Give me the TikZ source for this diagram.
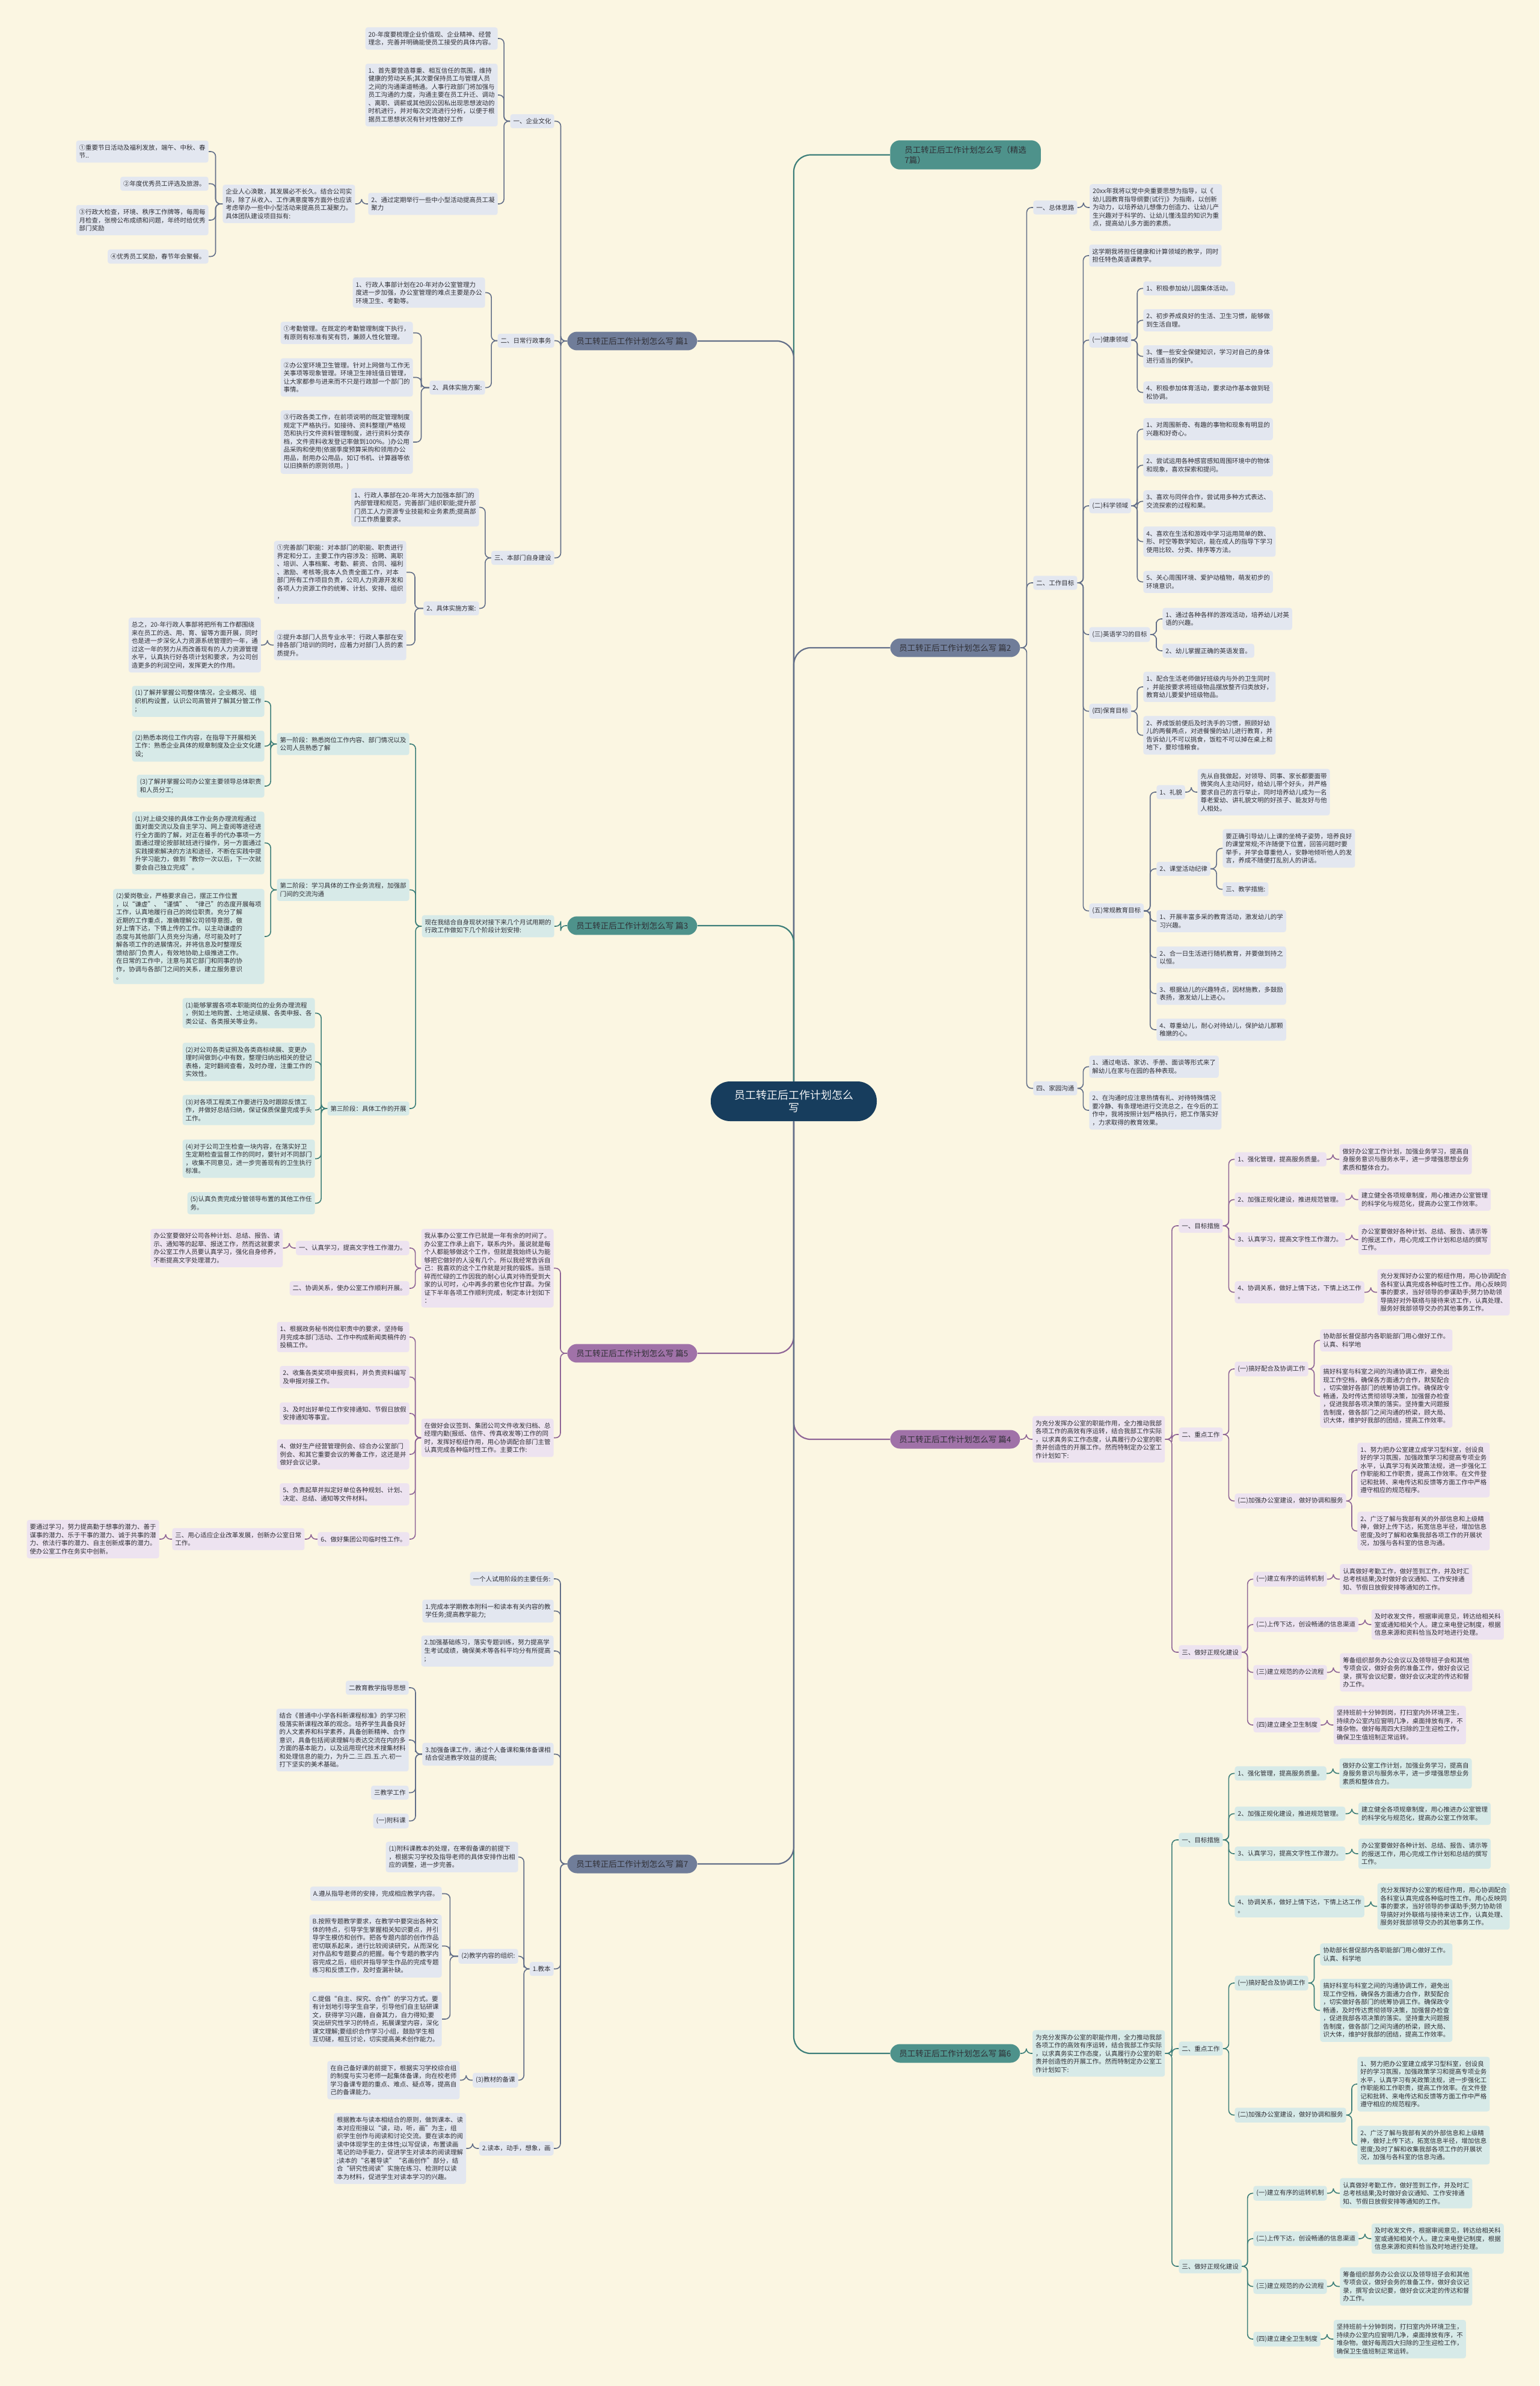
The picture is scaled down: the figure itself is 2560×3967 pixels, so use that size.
\documentclass[tikz,border=0pt]{standalone}
\usepackage{fontspec}
\setmainfont{Noto Sans CJK SC}
\usetikzlibrary{positioning,calc}
\definecolor{bgc}{RGB}{251,246,226}
\definecolor{ink}{RGB}{48,48,54}
\definecolor{slateL}{RGB}{98,110,136}
\definecolor{slateP}{RGB}{112,125,153}
\definecolor{slateF}{RGB}{227,231,240}
\definecolor{tealL}{RGB}{60,126,121}
\definecolor{tealP}{RGB}{78,146,139}
\definecolor{tealF}{RGB}{215,234,232}
\definecolor{purpL}{RGB}{142,100,150}
\definecolor{purpP}{RGB}{160,114,168}
\definecolor{purpF}{RGB}{237,227,240}
\definecolor{navy}{RGB}{23,61,93}
\newcommand{\lf}{\fontsize{5.25pt}{6.75pt}\selectfont}
\newcommand{\pf}{\fontsize{6.75pt}{8.6pt}\selectfont}
\newcommand{\hf}{\fontsize{9pt}{10.85pt}\selectfont}
% parent on the right, child on the left
\newcommand{\linkL}[3]{\draw[lk=#1] (#2.west) -| ($(#2.west)!.5!(#3.east)$) |- (#3.east);}
% parent on the left, child on the right
\newcommand{\linkR}[3]{\draw[lk=#1] (#2.east) -| ($(#2.east)!.5!(#3.west)$) |- (#3.west);}
% office plan branch (篇4 and 篇6 are the same text)
\newcommand{\officeplan}[6]{%
  \node[pill=#5, anchor=west] (#1) at (1480,2393+#2) {#6};
  \node[leaf=#4, right=10pt of #1] (#1o) {为充分发挥办公室的职能作用，全力推动我部\\各项工作的高效有序运转，结合我部工作实际\\，以求真务实工作态度，认真履行办公室的职\\责并创造性的开展工作。然而特制定办公室工\\作计划如下:};
  % 一、目标措施
  \node[leaf=#4, anchor=west] (#1a) at (1960,2038+#2) {一、目标措施};
  \node[leaf=#4, anchor=west] (#1a1) at (2053,1927.5+#2) {1、强化管理，提高服务质量。};
  \node[leaf=#4, right=10.5pt of #1a1] (#1a1t) {做好办公室工作计划，加强业务学习，提高自\\身服务意识与服务水平，进一步增强思想业务\\素质和整体合力。};
  \node[leaf=#4, anchor=west] (#1a2) at (2053,1994.5+#2) {2、加强正规化建设，推进规范管理。};
  \node[leaf=#4, right=10.5pt of #1a2] (#1a2t) {建立健全各项规章制度，用心推进办公室管理\\的科学化与规范化，提高办公室工作效率。};
  \node[leaf=#4, anchor=west] (#1a3) at (2053,2061+#2) {3、认真学习，提高文字性工作潜力。};
  \node[leaf=#4, right=10.5pt of #1a3] (#1a3t) {办公室要做好各种计划、总结、报告、请示等\\的报送工作，用心完成工作计划和总结的撰写\\工作。};
  \node[leaf=#4, anchor=west] (#1a4) at (2053,2148.5+#2) {4、协调关系，做好上情下达，下情上达工作\\。};
  \node[leaf=#4, right=10.5pt of #1a4] (#1a4t) {充分发挥好办公室的枢纽作用，用心协调配合\\各科室认真完成各种临时性工作。用心反映同\\事的要求，当好领导的参谋助手;努力协助领\\导搞好对外联络与接待来访工作，认真处理、\\服务好我部领导交办的其他事务工作。};
  % 二、重点工作
  \node[leaf=#4, anchor=west] (#1b) at (1960,2385+#2) {二、重点工作};
  \node[leaf=#4, anchor=west] (#1b1) at (2053,2276+#2) {(一)搞好配合及协调工作};
  \node[leaf=#4, anchor=west] (#1b1a) at (2195,2228.5+#2) {协助部长督促部内各职能部门用心做好工作。\\认真、科学地};
  \node[leaf=#4, anchor=west] (#1b1b) at (2195,2321.5+#2) {搞好科室与科室之间的沟通协调工作，避免出\\现工作空档，确保各方面通力合作，默契配合\\，切实做好各部门的统筹协调工作。确保政令\\畅通，及时传达贯彻领导决策，加强督办检查\\，促进我部各项决策的落实。坚持重大问题报\\告制度，做各部门之间沟通的桥梁，顾大局、\\识大体，维护好我部的团结，提高工作效率。};
  \node[leaf=#4, anchor=west] (#1b2) at (2053,2495.5+#2) {(二)加强办公室建设，做好协调和服务};
  \node[leaf=#4, anchor=west] (#1b2a) at (2257,2444+#2) {1、努力把办公室建立成学习型科室，创设良\\好的学习氛围，加强政策学习和提高专项业务\\水平，认真学习有关政策法规，进一步强化工\\作职能和工作职责，提高工作效率。在文件登\\记和批转、来电传达和反馈等方面工作中严格\\遵守相应的规范程序。};
  \node[leaf=#4, anchor=west] (#1b2b) at (2257,2545.5+#2) {2、广泛了解与我部有关的外部信息和上级精\\神，做好上传下达，拓宽信息半径，增加信息\\密度;及时了解和收集我部各项工作的开展状\\况，加强与各科室的信息沟通。};
  % 三、做好正规化建设
  \node[leaf=#4, anchor=west] (#1c) at (1960,2747+#2) {三、做好正规化建设};
  \node[leaf=#4, anchor=west] (#1c1) at (2084,2625.5+#2) {(一)建立有序的运转机制};
  \node[leaf=#4, right=10.5pt of #1c1] (#1c1t) {认真做好考勤工作，做好签到工作，并及时汇\\总考核结果;及时做好会议通知、工作安排通\\知、节假日放假安排等通知的工作。};
  \node[leaf=#4, anchor=west] (#1c2) at (2084,2701+#2) {(二)上传下达，创设畅通的信息渠道};
  \node[leaf=#4, right=10.5pt of #1c2] (#1c2t) {及时收发文件，根据审阅意见，转达给相关科\\室或通知相关个人。建立来电登记制度，根据\\信息来源和资料恰当及时地进行处理。};
  \node[leaf=#4, anchor=west] (#1c3) at (2084,2780.5+#2) {(三)建立规范的办公流程};
  \node[leaf=#4, right=10.5pt of #1c3] (#1c3t) {筹备组织部务办公会议以及领导班子会和其他\\专项会议，做好会务的准备工作，做好会议记\\录，撰写会议纪要，做好会议决定的传达和督\\办工作。};
  \node[leaf=#4, anchor=west] (#1c4) at (2084,2868+#2) {(四)建立建全卫生制度};
  \node[leaf=#4, right=10.5pt of #1c4] (#1c4t) {坚持班前十分钟到岗，打扫室内外环境卫生，\\持续办公室内应窗明几净，桌面排放有序，不\\堆杂物。做好每周四大扫除的卫生迎检工作，\\确保卫生值班制正常运转。};
  \linkR{#3}{#1}{#1o}
  \linkR{#3}{#1o}{#1a}\linkR{#3}{#1o}{#1b}\linkR{#3}{#1o}{#1c}
  \linkR{#3}{#1a}{#1a1}\linkR{#3}{#1a}{#1a2}\linkR{#3}{#1a}{#1a3}\linkR{#3}{#1a}{#1a4}
  \linkR{#3}{#1a1}{#1a1t}\linkR{#3}{#1a2}{#1a2t}\linkR{#3}{#1a3}{#1a3t}\linkR{#3}{#1a4}{#1a4t}
  \linkR{#3}{#1b}{#1b1}\linkR{#3}{#1b}{#1b2}
  \linkR{#3}{#1b1}{#1b1a}\linkR{#3}{#1b1}{#1b1b}
  \linkR{#3}{#1b2}{#1b2a}\linkR{#3}{#1b2}{#1b2b}
  \linkR{#3}{#1c}{#1c1}\linkR{#3}{#1c}{#1c2}\linkR{#3}{#1c}{#1c3}\linkR{#3}{#1c}{#1c4}
  \linkR{#3}{#1c1}{#1c1t}\linkR{#3}{#1c2}{#1c2t}\linkR{#3}{#1c3}{#1c3t}\linkR{#3}{#1c4}{#1c4t}
}

\begin{document}
\begin{tikzpicture}[x=0.5pt, y=-0.5pt,
  hub/.style={fill=navy, text=white!94!navy, font=\hf, rounded corners=16pt,
    minimum width=138pt, minimum height=33pt, align=center, inner sep=2pt},
  pill/.style={fill=#1, text=ink, font=\pf, rounded corners=8pt,
    inner xsep=7.5pt, inner ysep=4.6pt, align=left},
  leaf/.style={fill=#1, text=ink, font=\lf, rounded corners=2pt,
    inner xsep=2.5pt, inner ysep=3.4pt, align=left},
  lk/.style={draw=#1, line width=0.8pt, rounded corners=4pt},
  hlk/.style={draw=#1, line width=1.1pt, rounded corners=14pt},
]
\fill[bgc] (0,0) rectangle (2560,3967);

% centre
\node[hub] (hub) at (1320,1831) {员工转正后工作计划怎么\\写};

% title pill
\node[pill=tealP, anchor=west, inner xsep=12pt] (P0) at (1480,257.5) {员工转正后工作计划怎么写（精选\\7篇）};

% 篇1
\node[pill=slateP, anchor=west] (P1) at (943,567) {员工转正后工作计划怎么写 篇1};
\node[leaf=slateF, anchor=east] (a1) at (922,201.5) {一、企业文化};
\node[leaf=slateF, anchor=east] (a11) at (828,64) {20-年度要梳理企业价值观、企业精神、经营\\理念，完善并明确能使员工接受的具体内容。};
\node[leaf=slateF, anchor=east] (a12) at (828,158) {1、首先要营造尊重、相互信任的氛围，维持\\健康的劳动关系;其次要保持员工与管理人员\\之间的沟通渠道畅通。人事行政部门将加强与\\员工沟通的力度，沟通主要在员工升迁、调动\\、离职、调薪或其他因公因私出现思想波动的\\时机进行，并对每次交流进行分析，以便于根\\据员工思想状况有针对性做好工作};
\node[leaf=slateF, anchor=east] (a13) at (828,339) {2、通过定期举行一些中小型活动提高员工凝\\聚力};
\node[leaf=slateF, left=10.5pt of a13] (a131) {企业人心涣散，其发展必不长久。结合公司实\\际，除了从收入、工作满意度等方面外也应该\\考虑举办一些中小型活动来提高员工凝聚力。\\具体团队建设项目拟有:};
\node[leaf=slateF, anchor=east] (a1311) at (347,252) {①重要节日活动及福利发放，端午、中秋、春\\节..};
\node[leaf=slateF, anchor=east] (a1312) at (347,305.5) {②年度优秀员工评选及旅游。};
\node[leaf=slateF, anchor=east] (a1313) at (347,366) {③行政大检查，环境、秩序工作牌等，每周每\\月检查，张榜公布成绩和问题，年终时给优秀\\部门奖励};
\node[leaf=slateF, anchor=east] (a1314) at (347,426.5) {④优秀员工奖励，春节年会聚餐。};
\node[leaf=slateF, anchor=east] (a2) at (922,566.5) {二、日常行政事务};
\node[leaf=slateF, anchor=east] (a21) at (807,486.5) {1、行政人事部计划在20-年对办公室管理力\\度进一步加强，办公室管理的难点主要是办公\\环境卫生、考勤等。};
\node[leaf=slateF, anchor=east] (a22) at (807,644.5) {2、具体实施方案:};
\node[leaf=slateF, anchor=east] (a221) at (687,553.5) {①考勤管理。在既定的考勤管理制度下执行，\\有原则有标准有奖有罚，兼顾人性化管理。};
\node[leaf=slateF, anchor=east] (a222) at (687,627.5) {②办公室环境卫生管理。针对上网做与工作无\\关事项等现象管理。环境卫生排班值日管理，\\让大家都参与进来而不只是行政部一个部门的\\事情。};
\node[leaf=slateF, anchor=east] (a223) at (687,735) {③行政各类工作，在前项说明的既定管理制度\\规定下严格执行。如接待、资料整理(严格规\\范和执行文件资料管理制度，进行资料分类存\\档，文件资料收发登记率做到100\%。)办公用\\品采购和使用(依据季度预算采购和领用办公\\用品，耐用办公用品，如订书机、计算器等依\\以旧换新的原则领用。)};
\node[leaf=slateF, anchor=east] (a3) at (922,927.5) {三、本部门自身建设};
\node[leaf=slateF, anchor=east] (a31) at (797,843.5) {1、行政人事部在20-年将大力加强本部门的\\内部管理和规范，完善部门组织职能;提升部\\门员工人力资源专业技能和业务素质;提高部\\门工作质量要求。};
\node[leaf=slateF, anchor=east] (a32) at (797,1011.5) {2、具体实施方案:};
\node[leaf=slateF, anchor=east] (a321) at (676,951.5) {①完善部门职能：对本部门的职能、职责进行\\界定和分工，主要工作内容涉及：招聘、离职\\、培训、人事档案、考勤、薪资、合同、福利\\、激励、考核等;我本人负责全面工作，对本\\部门所有工作项目负责，公司人力资源开发和\\各项人力资源工作的统筹、计划、安排、组织\\，};
\node[leaf=slateF, anchor=east] (a322) at (676,1072.5) {②提升本部门人员专业水平：行政人事部在安\\排各部门培训的同时，应着力对部门人员的素\\质提升。};
\node[leaf=slateF, left=10.5pt of a322] (a3221) {总之，20-年行政人事部将把所有工作都围绕\\来在员工的选、用、育、留等方面开展，同时\\也是进一步深化人力资源系统管理的一年，通\\过这一年的努力从而改善现有的人力资源管理\\水平，认真执行好各项计划和要求，为公司创\\造更多的利润空间，发挥更大的作用。};

% 篇3
\node[pill=tealP, anchor=west] (P3) at (943,1539) {员工转正后工作计划怎么写 篇3};
\node[leaf=tealF, anchor=east] (b1) at (922,1540) {现在我结合自身现状对接下来几个月试用期的\\行政工作做如下几个阶段计划安排:};
\node[leaf=tealF, anchor=east] (b11) at (681,1237) {第一阶段：熟悉岗位工作内容、部门情况以及\\公司人员熟悉了解};
\node[leaf=tealF, anchor=east] (b111) at (440,1166) {(1)了解并掌握公司整体情况，企业概况、组\\织机构设置，认识公司高管并了解其分管工作\\;};
\node[leaf=tealF, anchor=east] (b112) at (440,1240.5) {(2)熟悉本岗位工作内容，在指导下开展相关\\工作：熟悉企业具体的规章制度及企业文化建\\设;};
\node[leaf=tealF, anchor=east] (b113) at (440,1307) {(3)了解并掌握公司办公室主要领导总体职责\\和人员分工;};
\node[leaf=tealF, anchor=east] (b12) at (681,1479.5) {第二阶段：学习具体的工作业务流程，加强部\\门间的交流沟通};
\node[leaf=tealF, anchor=east] (b121) at (440,1401.5) {(1)对上级交接的具体工作业务办理流程通过\\面对面交流以及自主学习、网上查阅等途径进\\行全方面的了解，对正在着手的代办事项一方\\面通过理论按部就班进行操作，另一方面通过\\实践摸索解决的方法和途径，不断在实践中提\\升学习能力，做到“教你一次以后，下一次就\\要会自己独立完成”。};
\node[leaf=tealF, anchor=east] (b122) at (440,1557) {(2)爱岗敬业，严格要求自己，摆正工作位置\\，以“谦虚”、“谨慎”、“律己”的态度开展每项\\工作，认真地履行自己的岗位职责。充分了解\\近期的工作重点，准确理解公司领导意图，做\\好上情下达，下情上传的工作。以主动谦虚的\\态度与其他部门人员充分沟通，尽可能及时了\\解各项工作的进展情况，并将信息及时整理反\\馈给部门负责人，有效地协助上级推进工作。\\在日常的工作中，注意与其它部门和同事的协\\作，协调与各部门之间的关系，建立服务意识\\。};
\node[leaf=tealF, anchor=east] (b13) at (681,1843) {第三阶段：具体工作的开展};
\node[leaf=tealF, anchor=east] (b131) at (524,1684.5) {(1)能够掌握各项本职能岗位的业务办理流程\\，例如土地购置、土地证续展、各类申报、各\\类公证、各类报关等业务。};
\node[leaf=tealF, anchor=east] (b132) at (524,1765.5) {(2)对公司各类证照及各类商标续展、变更办\\理时间做到心中有数，整理归纳出相关的登记\\表格，定时翻阅查看，及时办理，注重工作的\\实效性。};
\node[leaf=tealF, anchor=east] (b133) at (524,1845.5) {(3)对各项工程类工作要进行及时跟踪反馈工\\作，并做好总结归纳，保证保质保量完成手头\\工作。};
\node[leaf=tealF, anchor=east] (b134) at (524,1926.5) {(4)对于公司卫生检查一块内容，在落实好卫\\生定期检查监督工作的同时，要针对不同部门\\，收集不同意见，进一步完善现有的卫生执行\\标准。};
\node[leaf=tealF, anchor=east] (b135) at (524,2000.5) {(5)认真负责完成分管领导布置的其他工作任\\务。};

% 篇5
\node[pill=purpP, anchor=west] (P5) at (943,2250) {员工转正后工作计划怎么写 篇5};
\node[leaf=purpF, anchor=east] (c1) at (921,2108.5) {我从事办公室工作已就是一年有余的时间了。\\办公室工作承上启下，联系内外。虽说就是每\\个人都能够做这个工作，但就是我始终认为能\\够把它做好的人没有几个。所以我经常告诉自\\己：我喜欢的这个工作就是对我的锻炼。当琐\\碎而忙碌的工作因我的耐心认真对待而受到大\\家的认可时，心中再多的累也化作甘霖。为保\\证下半年各项工作顺利完成，制定本计划如下\\：};
\node[leaf=purpF, anchor=east] (c11) at (681,2075) {一、认真学习，提高文字性工作潜力。};
\node[leaf=purpF, left=10.5pt of c11] (c111) {办公室要做好公司各种计划、总结、报告、请\\示、通知等的起草、报送工作，然而这就要求\\办公室工作人员要认真学习，强化自身修养，\\不断提高文字处理潜力。};
\node[leaf=purpF, anchor=east] (c12) at (681,2142) {二、协调关系，使办公室工作顺利开展。};
\node[leaf=purpF, anchor=east] (c2) at (921,2390.5) {在做好会议签到、集团公司文件收发归档、总\\经理内勤(报纸、信件、传真收发等)工作的同\\时，发挥好枢纽作用，用心协调配合部门主管\\认真完成各种临时性工作。主要工作:};
\node[leaf=purpF, anchor=east] (c21) at (681,2223) {1、根据政务秘书岗位职责中的要求，坚持每\\月完成本部门活动、工作中构成新闻类稿件的\\投稿工作。};
\node[leaf=purpF, anchor=east] (c22) at (681,2289.5) {2、收集各类奖项申报资料，并负责资料编写\\及申报对接工作。};
\node[leaf=purpF, anchor=east] (c23) at (681,2350) {3、及时出好单位工作安排通知、节假日放假\\安排通知等事宜。};
\node[leaf=purpF, anchor=east] (c24) at (681,2418) {4、做好生产经营管理例会、综合办公室部门\\例会、和其它重要会议的筹备工作，这还是并\\做好会议记录。};
\node[leaf=purpF, anchor=east] (c25) at (681,2484.5) {5、负责起草并拟定好单位各种规划、计划、\\决定、总结、通知等文件材料。};
\node[leaf=purpF, anchor=east] (c26) at (681,2559) {6、做好集团公司临时性工作。};
\node[leaf=purpF, left=10.5pt of c26] (c261) {三、用心适应企业改革发展，创新办公室日常\\工作。};
\node[leaf=purpF, left=10.5pt of c261] (c2611) {要通过学习，努力提高勤于想事的潜力、善于\\谋事的潜力、乐于干事的潜力、诚于共事的潜\\力、依法行事的潜力、自主创新成事的潜力。\\使办公室工作在务实中创新。};

% 篇7
\node[pill=slateP, anchor=west] (P7) at (943,3099) {员工转正后工作计划怎么写 篇7};
\node[leaf=slateF, anchor=east] (d1) at (921,2625) {一个人试用阶段的主要任务:};
\node[leaf=slateF, anchor=east] (d2) at (921,2678.5) {1.完成本学期教本附科一和读本有关内容的教\\学任务;提高教学能力;};
\node[leaf=slateF, anchor=east] (d3) at (921,2745) {2.加强基础练习，落实专题训练，努力提高学\\生考试成绩，确保美术等各科平均分有所提高\\;};
\node[leaf=slateF, anchor=east] (d4) at (921,2916.5) {3.加强备课工作，通过个人备课和集体备课相\\结合促进教学效益的提高;};
\node[leaf=slateF, anchor=east] (d41) at (680,2806) {二教育教学指导思想};
\node[leaf=slateF, anchor=east] (d42) at (680,2893) {结合《普通中小学各科新课程标准》的学习积\\极落实新课程改革的观念。培养学生具备良好\\的人文素养和科学素养，具备创新精神、合作\\意识，具备包括阅读理解与表达交流在内的多\\方面的基本能力，以及运用现代技术搜集材料\\和处理信息的能力，为升二.三.四.五.六.初一\\打下坚实的美术基础。};
\node[leaf=slateF, anchor=east] (d43) at (680,2980.5) {三教学工作};
\node[leaf=slateF, anchor=east] (d44) at (680,3027.5) {(一)附科课};
\node[leaf=slateF, anchor=east] (d5) at (921,3273.5) {1.教本};
\node[leaf=slateF, anchor=east] (d51) at (862,3087.5) {(1)附科课教本的处理，在寒假备课的前提下\\，根据实习学校及指导老师的具体安排作出相\\应的调整，进一步完善。};
\node[leaf=slateF, anchor=east] (d52) at (862,3252.5) {(2)教学内容的组织:};
\node[leaf=slateF, anchor=east] (d521) at (735,3148.5) {A.遵从指导老师的安排，完成相应教学内容。};
\node[leaf=slateF, anchor=east] (d522) at (735,3235.5) {B.按照专题教学要求，在教学中要突出各种文\\体的特点，引导学生掌握相关知识要点，并引\\导学生模仿和创作。把各专题内部的创作作品\\密切联系起来，进行比较阅读研究，从而深化\\对作品和专题要点的把握。每个专题的教学内\\容完成之后，组织并指导学生作品的完成专题\\练习和反馈工作，及时查漏补缺。};
\node[leaf=slateF, anchor=east] (d523) at (735,3357) {C.提倡“自主、探究、合作”的学习方式。要\\有计划地引导学生自学，引导他们自主钻研课\\文，获得学习兴趣，自奋其力，自力得知;要\\突出研究性学习的特点，拓展课堂内容，深化\\课文理解;要组织合作学习小组，鼓励学生相\\互切磋，相互讨论，切实提高美术创作能力。};
\node[leaf=slateF, anchor=east] (d53) at (862,3458.5) {(3)教材的备课};
\node[leaf=slateF, left=10.5pt of d53] (d531) {在自己备好课的前提下，根据实习学校综合组\\的制度与实习老师一起集体备课，向在校老师\\学习备课专题的重点、难点、疑点等，提高自\\己的备课能力。};
\node[leaf=slateF, anchor=east] (d6) at (921,3572) {2.读本，动手，想象，画};
\node[leaf=slateF, left=10.5pt of d6] (d61) {根据教本与读本相结合的原则，做到课本、读\\本对应衔接以“读，动，听，画”为主，组\\织学生创作与阅读和讨论交流。要在读本的阅\\读中体现学生的主体性;以写促读，布置读画\\笔记的动手能力，促进学生对读本的阅读理解\\;读本的“名著导读”“名画创作”部分，结\\合“研究性阅读”实施在练习、检测时以读\\本为材料，促进学生对读本学习的兴趣。};

% 篇2
\node[pill=slateP, anchor=west] (P2) at (1480,1077) {员工转正后工作计划怎么写 篇2};
\node[leaf=slateF, anchor=west] (e1) at (1718,345) {一、总体思路};
\node[leaf=slateF, right=10pt of e1] (e11) {20xx年我将以党中央重要思想为指导，以《\\幼儿园教育指导纲要(试行)》为指南，以创新\\为动力，以培养幼儿想像力创造力、让幼儿产\\生兴趣对于科学的、让幼儿懂浅显的知识为重\\点，提高幼儿多方面的素质。};
\node[leaf=slateF, anchor=west] (e2) at (1718,969) {二、工作目标};
\node[leaf=slateF, anchor=west] (e21) at (1811,425) {这学期我将担任健康和计算领域的教学，同时\\担任特色英语课教学。};
\node[leaf=slateF, anchor=west] (e22) at (1811,565.5) {(一)健康领域};
\node[leaf=slateF, anchor=west] (e221) at (1901,479.5) {1、积极参加幼儿园集体活动。};
\node[leaf=slateF, anchor=west] (e222) at (1901,532.5) {2、初步养成良好的生活、卫生习惯，能够做\\到生活自理。};
\node[leaf=slateF, anchor=west] (e223) at (1901,592.5) {3、懂一些安全保健知识，学习对自己的身体\\进行适当的保护。};
\node[leaf=slateF, anchor=west] (e224) at (1901,652.5) {4、积极参加体育活动，要求动作基本做到轻\\松协调。};
\node[leaf=slateF, anchor=west] (e23) at (1811,841) {(二)科学领域};
\node[leaf=slateF, anchor=west] (e231) at (1901,713.5) {1、对周围新奇、有趣的事物和现象有明显的\\兴趣和好奇心。};
\node[leaf=slateF, anchor=west] (e232) at (1901,773.5) {2、尝试运用各种感官感知周围环境中的物体\\和现象，喜欢探索和提问。};
\node[leaf=slateF, anchor=west] (e233) at (1901,833.5) {3、喜欢与同伴合作，尝试用多种方式表达、\\交流探索的过程和果。};
\node[leaf=slateF, anchor=west] (e234) at (1901,900.5) {4、喜欢在生活和游戏中学习运用简单的数、\\形、时空等数学知识，能在成人的指导下学习\\使用比较、分类、排序等方法。};
\node[leaf=slateF, anchor=west] (e235) at (1901,967.5) {5、关心周围环境、爱护动植物，萌发初步的\\环境意识。};
\node[leaf=slateF, anchor=west] (e24) at (1811,1055) {(三)英语学习的目标};
\node[leaf=slateF, anchor=west] (e241) at (1933,1029) {1、通过各种各样的游戏活动，培养幼儿对英\\语的兴趣。};
\node[leaf=slateF, anchor=west] (e242) at (1933,1082) {2、幼儿掌握正确的英语发音。};
\node[leaf=slateF, anchor=west] (e25) at (1811,1182.5) {(四)保育目标};
\node[leaf=slateF, anchor=west] (e251) at (1901,1142) {1、配合生活老师做好班级内与外的卫生同时\\，并能按要求将班级物品摆放整齐归类放好，\\教育幼儿要爱护班级物品。};
\node[leaf=slateF, anchor=west] (e252) at (1901,1222.5) {2、养成饭前便后及时洗手的习惯，照顾好幼\\儿的两餐两点，对进餐慢的幼儿进行教育，并\\告诉幼儿不可以挑食，饭粒不可以掉在桌上和\\地下，要珍惜粮食。};
\node[leaf=slateF, anchor=west] (e26) at (1811,1514.5) {(五)常规教育目标};
\node[leaf=slateF, anchor=west] (e261) at (1923,1317) {1、礼貌};
\node[leaf=slateF, right=10pt of e261] (e2611) {先从自我做起，对领导、同事、家长都要面带\\微笑向人主动问好，给幼儿带个好头，并严格\\要求自己的言行举止，同时培养幼儿成为一名\\尊老爱幼、讲礼貌文明的好孩子、能友好与他\\人相处。};
\node[leaf=slateF, anchor=west] (e262) at (1923,1444.5) {2、课堂活动纪律};
\node[leaf=slateF, anchor=west] (e2621) at (2033,1410.5) {要正确引导幼儿上课的坐椅子姿势，培养良好\\的课堂常规;不许随便下位置，回答问题时要\\举手，并学会尊重他人，安静地倾听他人的发\\言，养成不随便打乱别人的讲话。};
\node[leaf=slateF, anchor=west] (e2622) at (2033,1478.5) {三、教学措施:};
\node[leaf=slateF, anchor=west] (e263) at (1923,1531.5) {1、开展丰富多采的教育活动，激发幼儿的学\\习兴趣。};
\node[leaf=slateF, anchor=west] (e264) at (1923,1592) {2、合一日生活进行随机教育，并要做到持之\\以恒。};
\node[leaf=slateF, anchor=west] (e265) at (1923,1652) {3、根据幼儿的兴趣特点，因材施教，多鼓励\\表扬，激发幼儿上进心。};
\node[leaf=slateF, anchor=west] (e266) at (1923,1712) {4、尊重幼儿，耐心对待幼儿，保护幼儿那颗\\稚嫩的心。};
\node[leaf=slateF, anchor=west] (e3) at (1718,1809.5) {四、家园沟通};
\node[leaf=slateF, anchor=west] (e31) at (1811,1773.5) {1、通过电话、家访、手册、面谈等形式来了\\解幼儿在家与在园的各种表现。};
\node[leaf=slateF, anchor=west] (e32) at (1811,1846) {2、在沟通时应注意热情有礼、对待特殊情况\\要冷静、有条理地进行交流总之，在今后的工\\作中，我将按照计划严格执行，把工作落实好\\，力求取得的教育效果。};

% 篇4 and 篇6
\officeplan{P4}{0}{purpL}{purpF}{purpP}{员工转正后工作计划怎么写 篇4}
\officeplan{P6}{1021}{tealL}{tealF}{tealP}{员工转正后工作计划怎么写 篇6}

% centre to branches
\draw[hlk=tealL] (hub.north) |- (P0.west);
\draw[hlk=slateL] (hub.north) |- (P1.east);
\draw[hlk=slateL] (hub.north) |- (P2.west);
\draw[hlk=tealL] (hub.north) |- (P3.east);
\draw[hlk=purpL] (hub.south) |- (P4.west);
\draw[hlk=purpL] (hub.south) |- (P5.east);
\draw[hlk=tealL] (hub.south) |- (P6.west);
\draw[hlk=slateL] (hub.south) |- (P7.east);

% links 篇1
\linkL{slateL}{P1}{a1}\linkL{slateL}{P1}{a2}\linkL{slateL}{P1}{a3}
\linkL{slateL}{a1}{a11}\linkL{slateL}{a1}{a12}\linkL{slateL}{a1}{a13}
\linkL{slateL}{a13}{a131}
\linkL{slateL}{a131}{a1311}\linkL{slateL}{a131}{a1312}\linkL{slateL}{a131}{a1313}\linkL{slateL}{a131}{a1314}
\linkL{slateL}{a2}{a21}\linkL{slateL}{a2}{a22}
\linkL{slateL}{a22}{a221}\linkL{slateL}{a22}{a222}\linkL{slateL}{a22}{a223}
\linkL{slateL}{a3}{a31}\linkL{slateL}{a3}{a32}
\linkL{slateL}{a32}{a321}\linkL{slateL}{a32}{a322}
\linkL{slateL}{a322}{a3221}

% links 篇3
\linkL{tealL}{P3}{b1}
\linkL{tealL}{b1}{b11}\linkL{tealL}{b1}{b12}\linkL{tealL}{b1}{b13}
\linkL{tealL}{b11}{b111}\linkL{tealL}{b11}{b112}\linkL{tealL}{b11}{b113}
\linkL{tealL}{b12}{b121}\linkL{tealL}{b12}{b122}
\linkL{tealL}{b13}{b131}\linkL{tealL}{b13}{b132}\linkL{tealL}{b13}{b133}\linkL{tealL}{b13}{b134}\linkL{tealL}{b13}{b135}

% links 篇5
\linkL{purpL}{P5}{c1}\linkL{purpL}{P5}{c2}
\linkL{purpL}{c1}{c11}\linkL{purpL}{c1}{c12}\linkL{purpL}{c11}{c111}
\linkL{purpL}{c2}{c21}\linkL{purpL}{c2}{c22}\linkL{purpL}{c2}{c23}\linkL{purpL}{c2}{c24}\linkL{purpL}{c2}{c25}\linkL{purpL}{c2}{c26}
\linkL{purpL}{c26}{c261}\linkL{purpL}{c261}{c2611}

% links 篇7
\linkL{slateL}{P7}{d1}\linkL{slateL}{P7}{d2}\linkL{slateL}{P7}{d3}\linkL{slateL}{P7}{d4}\linkL{slateL}{P7}{d5}\linkL{slateL}{P7}{d6}
\linkL{slateL}{d4}{d41}\linkL{slateL}{d4}{d42}\linkL{slateL}{d4}{d43}\linkL{slateL}{d4}{d44}
\linkL{slateL}{d5}{d51}\linkL{slateL}{d5}{d52}\linkL{slateL}{d5}{d53}
\linkL{slateL}{d52}{d521}\linkL{slateL}{d52}{d522}\linkL{slateL}{d52}{d523}
\linkL{slateL}{d53}{d531}\linkL{slateL}{d6}{d61}

% links 篇2
\linkR{slateL}{P2}{e1}\linkR{slateL}{P2}{e2}\linkR{slateL}{P2}{e3}
\linkR{slateL}{e1}{e11}
\linkR{slateL}{e2}{e21}\linkR{slateL}{e2}{e22}\linkR{slateL}{e2}{e23}\linkR{slateL}{e2}{e24}\linkR{slateL}{e2}{e25}\linkR{slateL}{e2}{e26}
\linkR{slateL}{e22}{e221}\linkR{slateL}{e22}{e222}\linkR{slateL}{e22}{e223}\linkR{slateL}{e22}{e224}
\linkR{slateL}{e23}{e231}\linkR{slateL}{e23}{e232}\linkR{slateL}{e23}{e233}\linkR{slateL}{e23}{e234}\linkR{slateL}{e23}{e235}
\linkR{slateL}{e24}{e241}\linkR{slateL}{e24}{e242}
\linkR{slateL}{e25}{e251}\linkR{slateL}{e25}{e252}
\linkR{slateL}{e26}{e261}\linkR{slateL}{e26}{e262}\linkR{slateL}{e26}{e263}\linkR{slateL}{e26}{e264}\linkR{slateL}{e26}{e265}\linkR{slateL}{e26}{e266}
\linkR{slateL}{e261}{e2611}
\linkR{slateL}{e262}{e2621}\linkR{slateL}{e262}{e2622}
\linkR{slateL}{e3}{e31}\linkR{slateL}{e3}{e32}

\end{tikzpicture}
\end{document}
